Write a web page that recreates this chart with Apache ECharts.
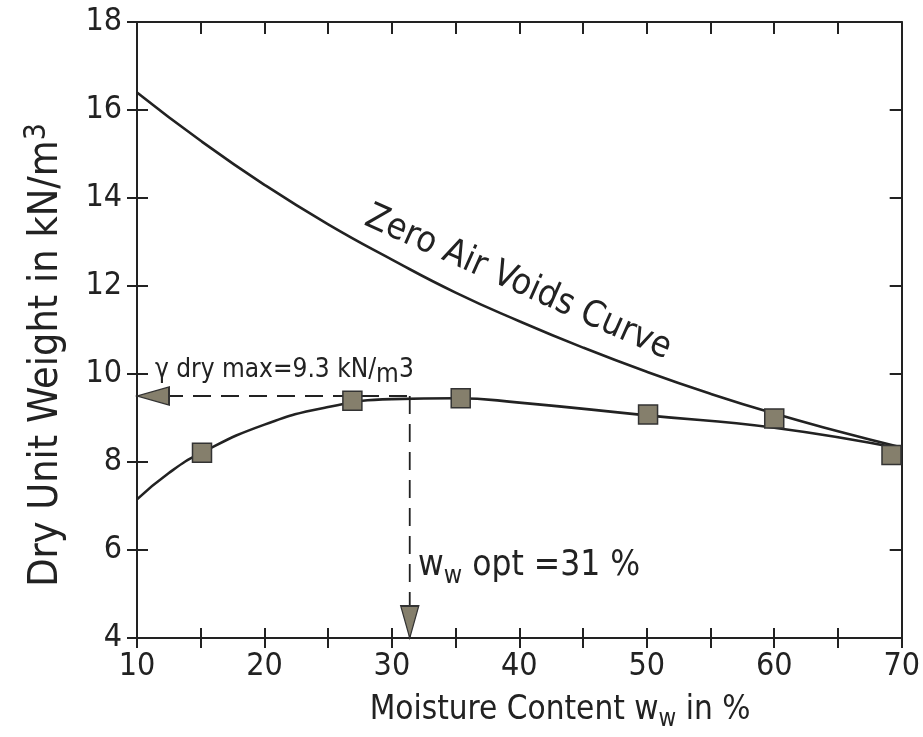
<!DOCTYPE html>
<html>
<head>
<meta charset="utf-8">
<script src="https://cdn.jsdelivr.net/npm/echarts@6/dist/echarts.min.js"></script>
<style>
html, body { margin: 0; padding: 0; background: #fff; }
#chart { width: 923px; height: 737px; }
</style>
</head>
<body>
<div id="chart"></div>
<script>
// zero air voids curve
var zav_w = [10, 15, 20, 25, 30, 35, 40, 45, 50, 55, 60, 65, 70];
var zav_g = [16.4, 15.3, 14.3, 13.4, 12.6, 11.85, 11.2, 10.6, 10.05, 9.55, 9.1, 8.7, 8.33];

// compaction curve
var comp_w = [10, 12.5, 15, 20, 25, 30, 35, 40, 50, 60, 70];
var comp_g = [7.15, 7.75, 8.2, 8.85, 9.25, 9.43, 9.45, 9.35, 9.06, 8.78, 8.3];

// test points (squares)
var test_w = [15.1, 26.9, 35.4, 50.1, 60.0, 69.2];
var test_g = [8.21, 9.39, 9.45, 9.08, 8.99, 8.16];

// optimum
var opt_w = 31.4;
var max_g = 9.5;

// axis ticks / labels
var x_min = 10, x_max = 70, x_step = 5;
var x_labels = [10, 20, 30, 40, 50, 60, 70];
var y_min = 4, y_max = 18, y_step = 2;

var ink = '#222';
var grey = '#857f6c';
var font = 'DejaVu Sans Condensed';

function pairs(a, b) {
  var out = [];
  for (var i = 0; i < a.length; i++) out.push([a[i], b[i]]);
  return out;
}

var chart = echarts.init(document.getElementById('chart'));

function xAx(extra) {
  var base = {
    type: 'value', min: x_min, max: x_max, interval: x_step,
    splitLine: { show: false },
    axisLine: { show: true, onZero: false, lineStyle: { color: ink, width: 2 } },
    axisTick: { show: true, inside: true, length: 10, lineStyle: { color: ink, width: 2 } },
    axisLabel: { show: false }
  };
  return Object.assign(base, extra);
}
function yAx(extra) {
  var base = {
    type: 'value', min: y_min, max: y_max, interval: y_step,
    splitLine: { show: false },
    axisLine: { show: true, onZero: false, lineStyle: { color: ink, width: 2 } },
    axisTick: { show: true, inside: true, length: 11, lineStyle: { color: ink, width: 2 } },
    axisLabel: { show: false }
  };
  return Object.assign(base, extra);
}

var option = {
  backgroundColor: '#fff',
  animation: false,
  grid: { left: 137, right: 16, top: 22, bottom: 99 },
  xAxis: [
    xAx({
      position: 'bottom',
      axisLabel: {
        show: true, margin: 13, color: ink, fontFamily: font, fontSize: 32,
        formatter: function (v) { return x_labels.indexOf(v) >= 0 ? String(v) : ''; }
      }
    }),
    xAx({ position: 'bottom', axisLine: { show: false }, axisTick: { show: true, inside: false, length: 10, lineStyle: { color: ink, width: 2 } } }),
    xAx({ position: 'top', axisTick: { show: true, inside: true, length: 12, lineStyle: { color: ink, width: 2 } } })
  ],
  yAxis: [
    yAx({
      position: 'left',
      axisLabel: { show: true, margin: 15, color: ink, fontFamily: font, fontSize: 32 }
    }),
    yAx({ position: 'left', axisLine: { show: false }, axisTick: { show: true, inside: false, length: 10, lineStyle: { color: ink, width: 2 } } }),
    yAx({ position: 'right', axisTick: { show: true, inside: true, length: 12, lineStyle: { color: ink, width: 2 } } })
  ],
  series: [
    {
      name: 'Zero Air Voids Curve', type: 'line', smooth: true, showSymbol: false,
      data: pairs(zav_w, zav_g),
      lineStyle: { color: ink, width: 2.6 }
    },
    {
      name: 'Compaction', type: 'line', smooth: true, showSymbol: false,
      data: pairs(comp_w, comp_g),
      lineStyle: { color: ink, width: 2.6 }
    },
    {
      name: 'dash h', type: 'line', showSymbol: false,
      data: [[x_min, max_g], [opt_w, max_g]],
      lineStyle: { color: ink, width: 1.8, type: [18, 10] }
    },
    {
      name: 'dash v', type: 'line', showSymbol: false,
      data: [[opt_w, max_g], [opt_w, y_min]],
      lineStyle: { color: ink, width: 1.8, type: [18, 10] }
    },
    {
      name: 'tests', type: 'scatter', symbol: 'rect', symbolSize: 19,
      data: pairs(test_w, test_g),
      itemStyle: { color: grey, borderColor: '#333', borderWidth: 1.5, opacity: 1 },
      z: 5
    },
    {
      name: 'arrow left', type: 'scatter',
      symbol: 'path://M0,5 L16,0 L16,10 Z', symbolKeepAspect: false,
      symbolSize: [32, 18], symbolOffset: [16, 0],
      data: [[x_min, max_g]],
      itemStyle: { color: grey, borderColor: '#333', borderWidth: 1.5, opacity: 1 },
      z: 6
    },
    {
      name: 'arrow down', type: 'scatter',
      symbol: 'path://M0,0 L10,0 L5,16 Z', symbolKeepAspect: false,
      symbolSize: [18, 32], symbolOffset: [0, -16],
      data: [[opt_w, y_min]],
      itemStyle: { color: grey, borderColor: '#333', borderWidth: 1.5, opacity: 1 },
      z: 6
    }
  ],
  graphic: [
    {
      type: 'text', x: 46, y: 355, rotation: Math.PI / 2,
      style: {
        text: '{a|Dry Unit Weight in kN/m}{s|3}',
        align: 'center', verticalAlign: 'middle',
        rich: {
          a: { fontFamily: font, fontSize: 41, fill: ink },
          s: { fontFamily: font, fontSize: 30, fill: ink, verticalAlign: 'top', padding: [0, 0, 18, 0] }
        }
      }
    },
    {
      type: 'text', x: 560, y: 710,
      style: {
        text: '{a|Moisture Content w}{s|w}{a| in %}',
        align: 'center', verticalAlign: 'middle',
        rich: {
          a: { fontFamily: font, fontSize: 33, fill: ink },
          s: { fontFamily: font, fontSize: 24, fill: ink, padding: [20, 0, 0, 0] }
        }
      }
    },
    {
      type: 'text', x: 518, y: 283, rotation: -24 * Math.PI / 180,
      style: {
        text: 'Zero Air Voids Curve',
        fontFamily: font, fontSize: 36, fill: ink,
        align: 'center', verticalAlign: 'middle'
      }
    },
    {
      type: 'text', x: 155, y: 370,
      style: {
        text: '{a|γ dry max=9.3 kN/}{s|m}{a|3}',
        align: 'left', verticalAlign: 'middle',
        rich: {
          a: { fontFamily: font, fontSize: 26, fill: ink },
          s: { fontFamily: font, fontSize: 26, fill: ink, padding: [10, 0, 0, 0] }
        }
      }
    },
    {
      type: 'text', x: 418, y: 566,
      style: {
        text: '{a|w}{s|w}{a| opt =31 %}',
        align: 'left', verticalAlign: 'middle',
        rich: {
          a: { fontFamily: font, fontSize: 35, fill: ink },
          s: { fontFamily: font, fontSize: 25, fill: ink, padding: [20, 0, 0, 0] }
        }
      }
    }
  ]
};

chart.setOption(option);
</script>
</body>
</html>
